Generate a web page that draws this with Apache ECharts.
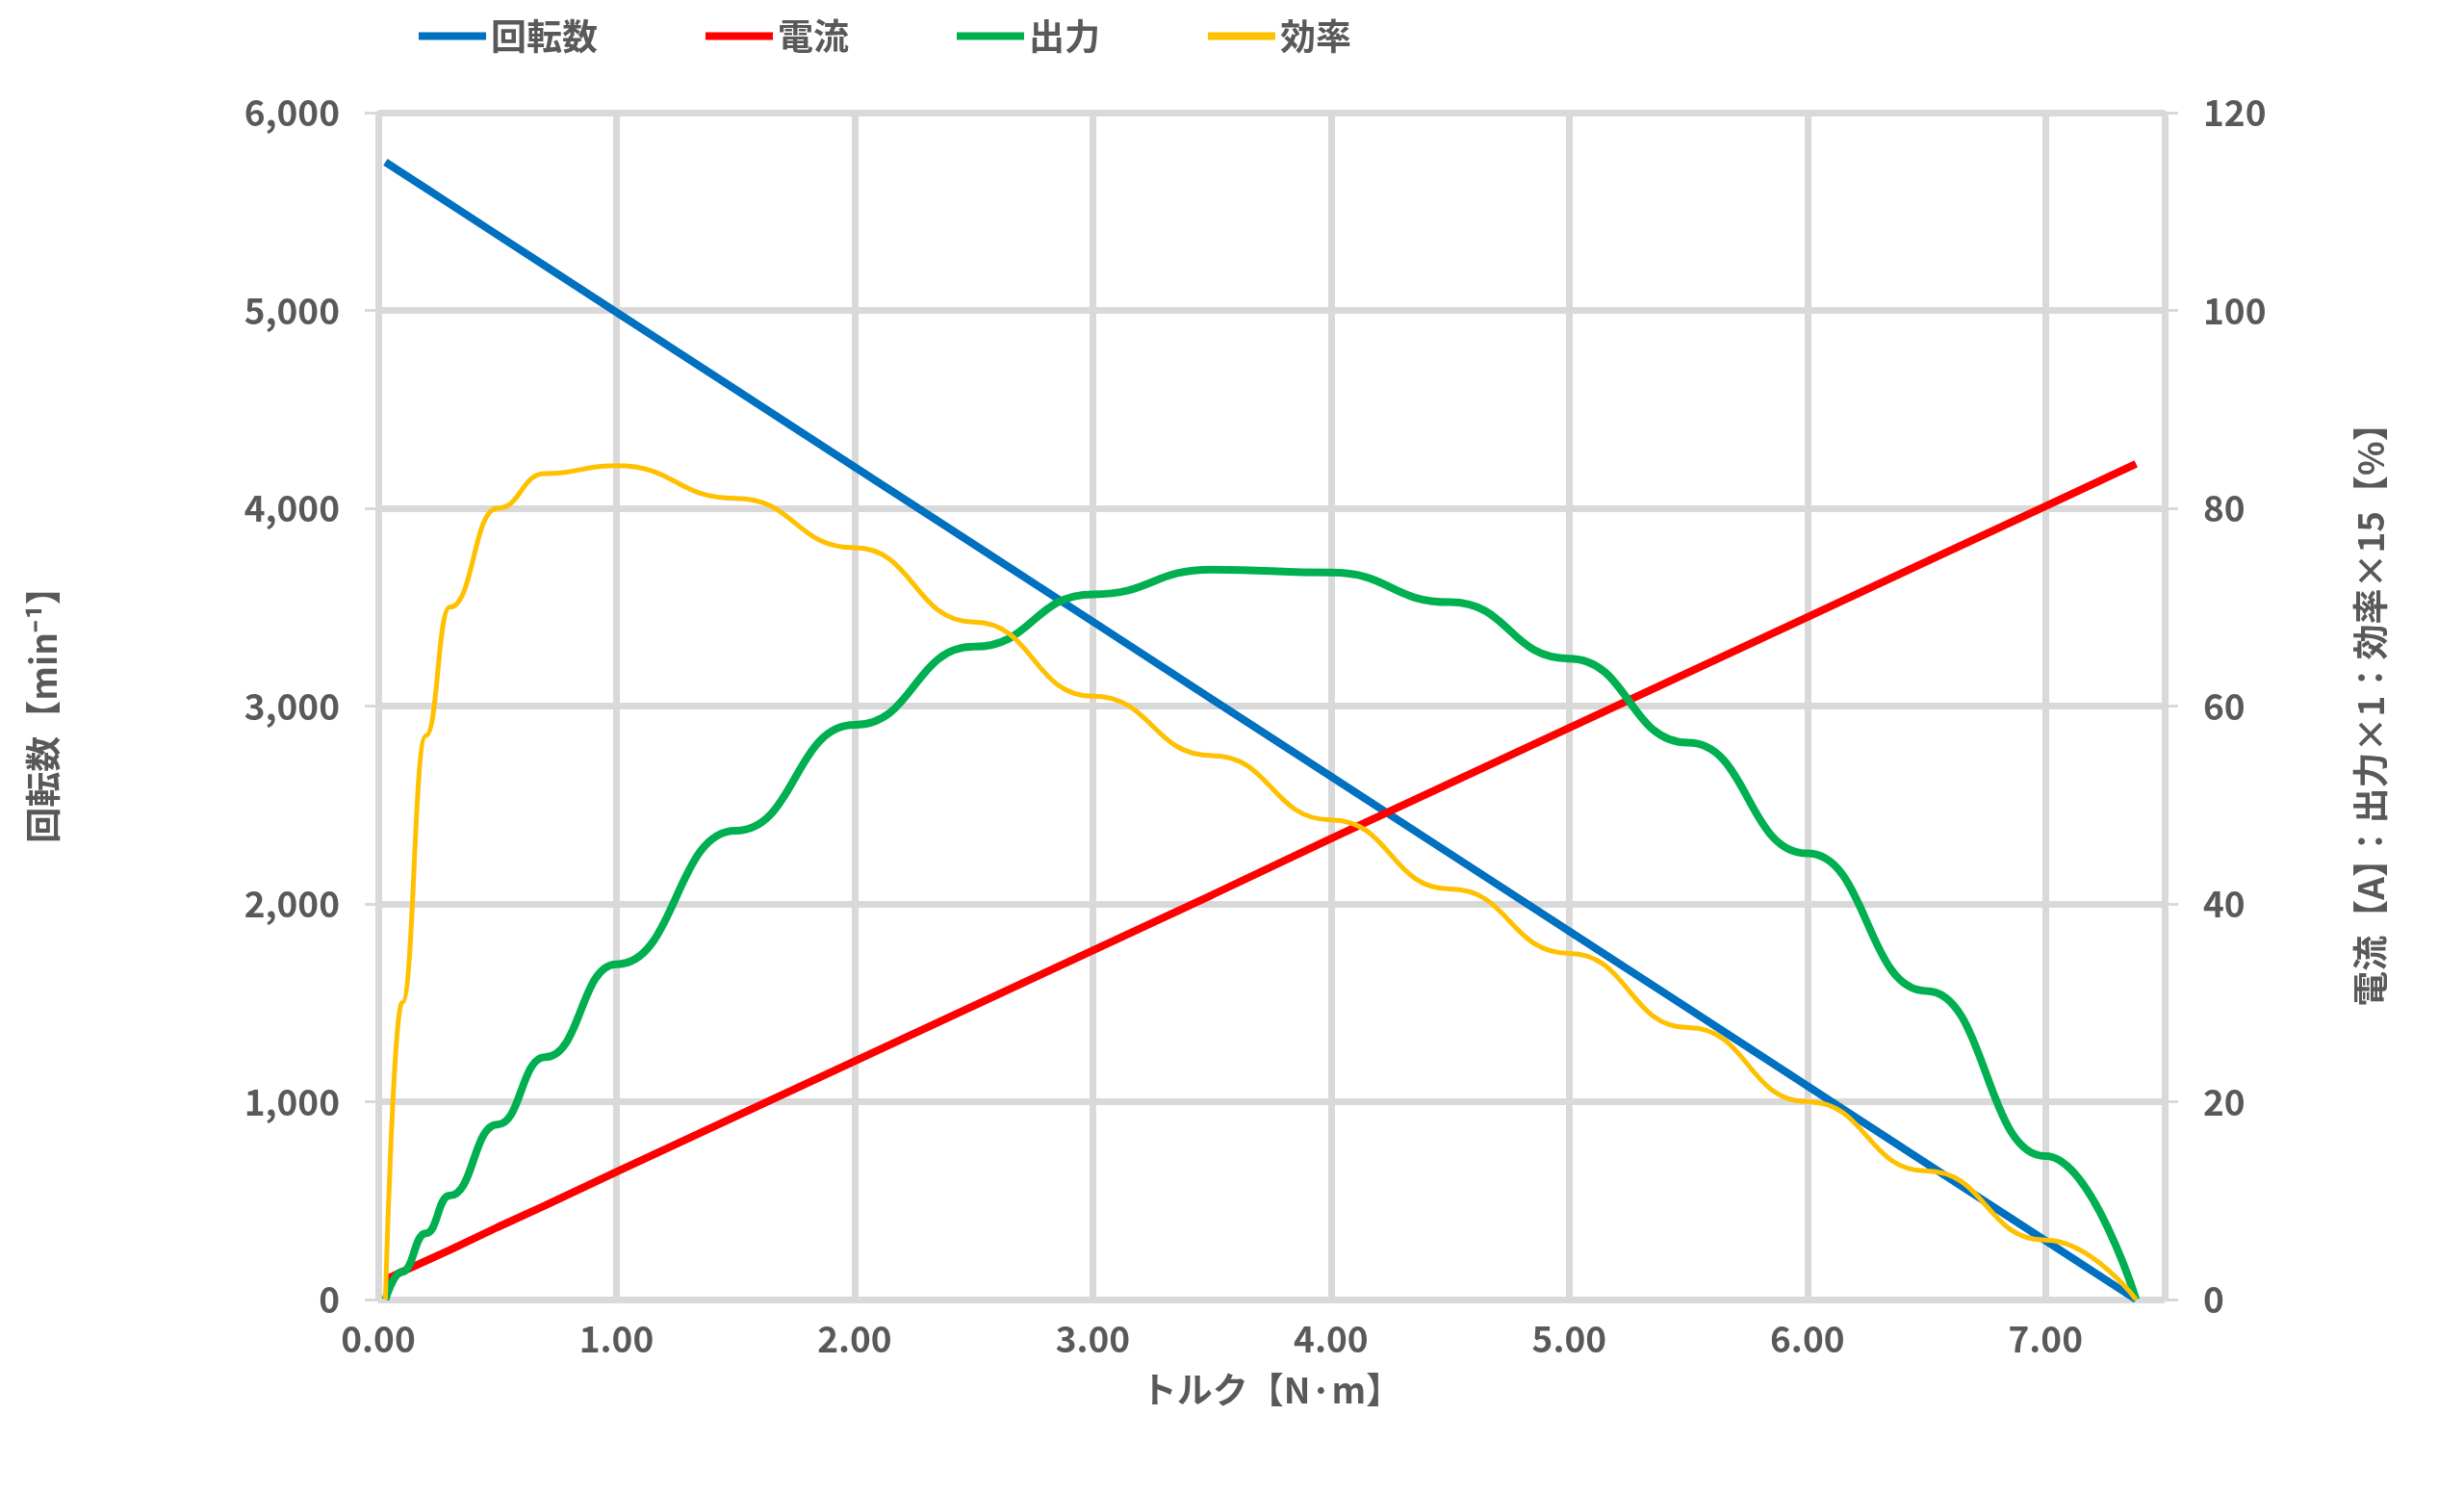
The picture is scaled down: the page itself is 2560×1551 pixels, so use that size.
<!DOCTYPE html>
<html>
<head>
<meta charset="utf-8">
<script src="https://cdn.jsdelivr.net/npm/echarts@6/dist/echarts.min.js"></script>
<style>html,body{margin:0;background:#fff}#c{width:2560px;height:1551px}</style>
</head>
<body>
<div id="c"></div>
<script>
// トルク [N·m]
const torque = [0.03, 0.1, 0.2, 0.3, 0.5, 0.7, 1, 1.5, 2, 2.5, 3, 3.5, 4, 4.5, 5, 5.5, 6, 6.5, 7, 7.38];
const speed = [5750, 5695, 5617, 5539, 5382, 5226, 4991, 4600, 4209, 3818, 3427, 3035, 2644, 2253, 1862, 1471, 1080, 688, 297, 0];
const current = [2, 2.8, 3.9, 5.0, 7.3, 9.5, 12.9, 18.5, 24.1, 29.7, 35.3, 40.9, 46.6, 52.2, 57.8, 63.4, 69.0, 74.6, 80.2, 84.5];
const output = [0, 2.8, 6.7, 10.5, 17.7, 24.5, 33.9, 47.4, 58.1, 66.0, 71.3, 73.8, 73.5, 70.5, 64.8, 56.3, 45.1, 31.2, 14.5, 0];
const efficiency = [0, 30, 57, 70, 80, 83.5, 84.3, 81, 76, 68.5, 61, 55, 48.5, 41.5, 35, 27.5, 20, 13, 6, 0];
const names = ['回転数', '電流', '出力', '効率'];
const colors = ['#0070c0', '#ff0000', '#00b050', '#ffc000'];

const pairs = ys => torque.map((t, i) => [t, ys[i]]);
const txt = { color: '#595959', fontSize: 37, fontWeight: 'bold', fontFamily: 'Noto Sans CJK JP' };
const chart = echarts.init(document.getElementById('c'));
chart.setOption({
  animation: false,
  color: colors,
  textStyle: { fontFamily: 'Noto Sans CJK JP' },
  legend: {
    top: 14, left: 430, itemGap: 112, itemWidth: 70, itemHeight: 8, icon: 'rect',
    textStyle: txt, data: names
  },
  grid: { left: 393, right: 311, top: 117, bottom: 185 + 16 },
  xAxis: {
    type: 'value', min: 0, max: 7.5, interval: 1,
    name: 'トルク【N·m】', nameLocation: 'middle', nameGap: 75, nameTextStyle: txt,
    axisLabel: { ...txt, margin: 22, formatter: v => v.toFixed(2), showMaxLabel: false },
    axisLine: { lineStyle: { color: '#d9d9d9', width: 4 } },
    axisTick: { show: false },
    splitLine: { show: true, lineStyle: { color: '#d9d9d9', width: 7 } }
  },
  yAxis: [{
    type: 'value', min: 0, max: 6000, interval: 1000,
    name: '回転数【min⁻¹】', nameLocation: 'middle', nameGap: 330, nameRotate: 90, nameTextStyle: txt,
    axisLabel: { ...txt, margin: 40, formatter: v => v.toLocaleString('en-US') },
    axisLine: { show: true, lineStyle: { color: '#d9d9d9', width: 4 } },
    axisTick: { show: true, length: 14, lineStyle: { color: '#d9d9d9', width: 3 } },
    splitLine: { lineStyle: { color: '#d9d9d9', width: 7 } }
  }, {
    type: 'value', min: 0, max: 120, interval: 20,
    name: '電流【A】：出力×1：効率×15【%】', nameLocation: 'middle', nameGap: 195, nameRotate: 90, nameTextStyle: txt,
    axisLabel: { ...txt, margin: 40 },
    axisLine: { show: true, lineStyle: { color: '#d9d9d9', width: 4 } },
    axisTick: { show: true, length: 14, lineStyle: { color: '#d9d9d9', width: 3 } },
    splitLine: { show: false }
  }],
  series: [
    { name: names[0], type: 'line', yAxisIndex: 0, data: pairs(speed), showSymbol: false, lineStyle: { width: 8 } },
    { name: names[1], type: 'line', yAxisIndex: 1, data: pairs(current), showSymbol: false, lineStyle: { width: 8 } },
    { name: names[2], type: 'line', yAxisIndex: 1, data: pairs(output), smooth: 0.5, smoothMonotone: 'x', showSymbol: false, lineStyle: { width: 8 } },
    { name: names[3], type: 'line', yAxisIndex: 1, data: pairs(efficiency), smooth: 0.5, smoothMonotone: 'x', showSymbol: false, lineStyle: { width: 5 } }
  ]
});
</script>
</body>
</html>
